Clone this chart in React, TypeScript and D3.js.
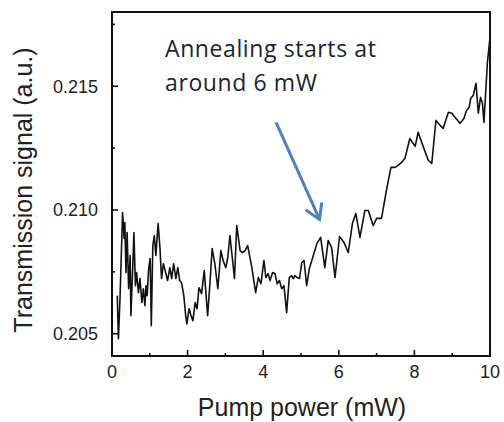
import React from "react";
import * as d3 from "d3";

const powerMW: number[] = [
  0.14, 0.17, 0.21, 0.24, 0.28, 0.32, 0.34, 0.37, 0.40, 0.44, 0.48, 0.50, 0.55, 0.58, 0.62, 0.65,
  0.70, 0.74, 0.79, 0.83, 0.87, 0.90, 0.93, 0.97, 1.01, 1.04, 1.08, 1.12, 1.16, 1.22, 1.27, 1.31,
  1.36, 1.42, 1.47, 1.53, 1.58, 1.63, 1.69, 1.74, 1.79, 1.84, 1.90, 1.95, 1.98, 2.04, 2.09, 2.14,
  2.20, 2.25, 2.30, 2.37, 2.44, 2.53, 2.59, 2.65, 2.72, 2.80, 2.88, 2.94, 3.01, 3.06, 3.12, 3.24,
  3.30, 3.39, 3.45, 3.52, 3.59, 3.70, 3.80, 3.87, 3.94, 4.02, 4.07, 4.13, 4.18, 4.25, 4.31, 4.37,
  4.43, 4.49, 4.55, 4.62, 4.69, 4.75, 4.80, 4.84, 4.90, 4.96, 5.02, 5.08, 5.15, 5.22, 5.31, 5.42,
  5.52, 5.63, 5.72, 5.81, 5.90, 6.02, 6.14, 6.25, 6.36, 6.45, 6.56, 6.69, 6.78, 6.91, 7.00, 7.13,
  7.27, 7.38, 7.49, 7.57, 7.66, 7.75, 7.88, 8.02, 8.10, 8.24, 8.37, 8.46, 8.57, 8.68, 8.76, 8.90,
  8.99, 9.10, 9.21, 9.31, 9.38, 9.45, 9.49, 9.56, 9.63, 9.69, 9.75, 9.80, 9.84, 9.93, 10.0,
];

const signal: number[] = [
  0.20654, 0.2048, 0.20634, 0.20787, 0.2099, 0.20885, 0.20949, 0.20747, 0.20909, 0.20682, 0.20816,
  0.20573, 0.20775, 0.20909, 0.20694, 0.20747, 0.20666, 0.20723, 0.20626, 0.20682, 0.20613, 0.20694,
  0.20654, 0.20763, 0.20804, 0.20532, 0.20856, 0.20897, 0.20816, 0.20945, 0.20844, 0.20723, 0.20783,
  0.20747, 0.20715, 0.20767, 0.20723, 0.20783, 0.20723, 0.20767, 0.20715, 0.20706, 0.20654, 0.20573,
  0.2054, 0.20601, 0.20573, 0.20553, 0.20626, 0.20601, 0.20686, 0.20662, 0.20755, 0.20573, 0.20702,
  0.20844, 0.20783, 0.20682, 0.20836, 0.20796, 0.20767, 0.20804, 0.20897, 0.20723, 0.20937, 0.20836,
  0.20828, 0.20836, 0.20856, 0.20767, 0.20666, 0.20727, 0.20702, 0.20796, 0.20727, 0.20743, 0.20715,
  0.20747, 0.20743, 0.20702, 0.20715, 0.20682, 0.20694, 0.20585, 0.20727, 0.20735, 0.20723, 0.20735,
  0.20727, 0.20723, 0.20787, 0.20796, 0.20694, 0.20763, 0.20808, 0.20864, 0.20889, 0.20767, 0.20877,
  0.20848, 0.20727, 0.20893, 0.20868, 0.20828, 0.20945, 0.20986, 0.20889, 0.20998, 0.20998, 0.20937,
  0.20966, 0.20966, 0.21087, 0.21172, 0.21172, 0.2118, 0.21192, 0.21209, 0.21289, 0.21257, 0.21314,
  0.21253, 0.212, 0.21188, 0.21362, 0.21342, 0.2133, 0.21395, 0.21391, 0.2137, 0.2135, 0.2137,
  0.21403, 0.21415, 0.21451, 0.21464, 0.21512, 0.21391, 0.21455, 0.21431, 0.21354, 0.21593, 0.21698,
];

const xMajorTicks: number[] = [0, 2, 4, 6, 8, 10];
const xMinorTicks: number[] = [1, 3, 5, 7, 9];
const yMajorTicks: number[] = [0.205, 0.21, 0.215];
const yMinorTicks: number[] = [0.2075, 0.2125, 0.2175];
const yTickLabels: string[] = ["0.205", "0.210", "0.215"];

const xTitle = "Pump power (mW)";
const yTitle = "Transmission signal (a.u.)";
const noteLines: string[] = ["Annealing starts at", "around 6 mW"];
const arrowFrom: [number, number] = [4.34, 0.21354];
const arrowTo: [number, number] = [5.49, 0.20962];

const W = 504;
const H = 422;
const L = 112;
const R = 490;
const T = 12;
const B = 356;

export default function App() {
  const x = d3.scaleLinear().domain([0, 10]).range([L, R]);
  const y = d3.scaleLinear().domain([0.2041, 0.218]).range([B, T]);
  const pts = powerMW.map((p, i) => [p, signal[i]] as [number, number]);
  const line = d3
    .line<[number, number]>()
    .x((d) => x(d[0]))
    .y((d) => y(d[1]));

  const axFont = "'Liberation Sans', Arial, sans-serif";

  const ax0 = x(arrowFrom[0]);
  const ay0 = y(arrowFrom[1]);
  const ax1 = x(arrowTo[0]);
  const ay1 = y(arrowTo[1]);
  const ang = Math.atan2(ay1 - ay0, ax1 - ax0);
  const hl = 17;
  const ha = 0.55;
  const h1 = [ax1 - hl * Math.cos(ang - ha), ay1 - hl * Math.sin(ang - ha)];
  const h2 = [ax1 - hl * Math.cos(ang + ha), ay1 - hl * Math.sin(ang + ha)];

  return (
    <svg
      width={W}
      height={H}
      style={{ position: "absolute", left: 0, top: 0, background: "#fff" }}
    >
      <rect x={0} y={0} width={W} height={H} fill="#fff" />
      <path d={line(pts) || ""} fill="none" stroke="#111" strokeWidth={1.6} strokeLinejoin="round" />
      <rect x={L} y={T} width={R - L} height={B - T} fill="none" stroke="#111" strokeWidth={2} />
      {xMajorTicks.map((t) => (
        <g key={"xM" + t}>
          <line x1={x(t)} x2={x(t)} y1={B} y2={B - 6} stroke="#111" strokeWidth={1.6} />
          <text x={x(t)} y={378} textAnchor="middle" fontSize={18} fontFamily={axFont} fill="#222">
            {t}
          </text>
        </g>
      ))}
      {xMinorTicks.map((t) => (
        <line key={"xm" + t} x1={x(t)} x2={x(t)} y1={B} y2={B - 3} stroke="#111" strokeWidth={1.6} />
      ))}
      {yMajorTicks.map((t, i) => (
        <g key={"yM" + t}>
          <line x1={L} x2={L + 6} y1={y(t)} y2={y(t)} stroke="#111" strokeWidth={1.6} />
          <text
            x={98}
            y={y(t)}
            dy="0.35em"
            textAnchor="end"
            fontSize={18}
            fontFamily={axFont}
            fill="#222"
          >
            {yTickLabels[i]}
          </text>
        </g>
      ))}
      {yMinorTicks.map((t) => (
        <line key={"ym" + t} x1={L} x2={L + 3} y1={y(t)} y2={y(t)} stroke="#111" strokeWidth={1.6} />
      ))}
      <text x={302} y={416} textAnchor="middle" fontSize={25} fontFamily={axFont} fill="#222">
        {xTitle}
      </text>
      <text
        transform={`translate(32,190) rotate(-90)`}
        textAnchor="middle"
        fontSize={25}
        fontFamily={axFont}
        fill="#222"
      >
        {yTitle}
      </text>
      {noteLines.map((s, i) => (
        <text
          key={s}
          x={165}
          y={57 + i * 34}
          fontSize={23}
          letterSpacing={0.6}
          fontFamily="'Open Sans', sans-serif"
          fill="#1c2333"
        >
          {s}
        </text>
      ))}
      <line x1={ax0} y1={ay0} x2={ax1} y2={ay1} stroke="#4f81bd" strokeWidth={3} />
      <polyline
        points={`${h1[0]},${h1[1]} ${ax1},${ay1} ${h2[0]},${h2[1]}`}
        fill="none"
        stroke="#4f81bd"
        strokeWidth={3}
        strokeLinejoin="miter"
      />
    </svg>
  );
}
